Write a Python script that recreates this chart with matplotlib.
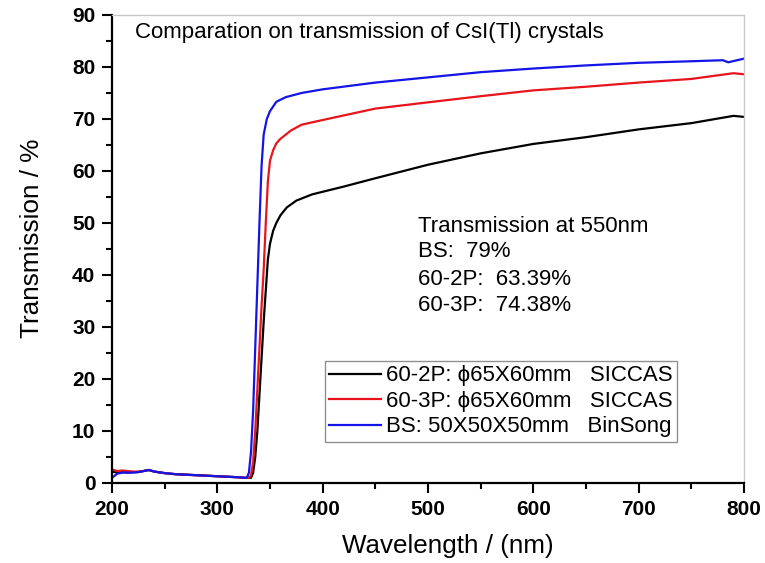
import numpy as np
import matplotlib
matplotlib.use('Agg')
from matplotlib import pyplot as plt
from matplotlib.ticker import MultipleLocator

plt.rcParams['font.family'] = ['Liberation Sans', 'DejaVu Sans']

# shared low-wavelength part (below the absorption edge)
low_nm = [200, 205, 210, 215, 220, 225, 230, 235, 240, 250, 260, 270, 280, 290, 300, 310, 320, 326]
low_bs = [1.0, 1.8, 2.0, 2.0, 2.0, 2.1, 2.3, 2.5, 2.2, 1.9, 1.7, 1.6, 1.5, 1.4, 1.3, 1.2, 1.1, 1.0]
low_2p = [2.2, 2.0, 2.1, 2.0, 2.1, 2.1, 2.3, 2.5, 2.2, 1.9, 1.7, 1.6, 1.5, 1.4, 1.3, 1.2, 1.1, 1.0]
low_3p = [2.6, 2.3, 2.4, 2.3, 2.2, 2.2, 2.3, 2.5, 2.2, 1.9, 1.7, 1.6, 1.5, 1.4, 1.3, 1.2, 1.1, 1.0]

# BS: 50X50X50mm BinSong
bs_nm = [328, 330, 332, 334, 336, 338, 340, 342, 344, 347, 350, 356, 365, 380, 400, 450, 500, 550,
         600, 650, 700, 750, 780, 785, 800]
bs_val = [1.0, 2.0, 6.0, 14.0, 26.0, 38.0, 50.0, 61.0, 67.0, 70.0, 71.5, 73.3, 74.2, 75.0, 75.7,
          77.0, 78.0, 79.0, 79.7, 80.3, 80.8, 81.1, 81.3, 80.9, 81.6]

# 60-2P: phi65X60mm SICCAS
p2_nm = [330, 332, 334, 336, 338, 340, 342, 344, 346, 348, 350, 353, 356, 360, 366, 375, 390, 400,
         420, 450, 500, 550, 600, 650, 700, 750, 790, 800]
p2_val = [1.0, 1.0, 2.0, 5.0, 10.0, 17.0, 24.0, 31.0, 37.0, 43.0, 46.0, 48.5, 50.0, 51.5, 53.0,
          54.3, 55.5, 56.0, 57.0, 58.6, 61.2, 63.39, 65.2, 66.5, 68.0, 69.2, 70.6, 70.4]

# 60-3P: phi65X60mm SICCAS
p3_nm = [328, 330, 332, 334, 336, 338, 340, 342, 344, 346, 348, 350, 353, 356, 360, 370, 380, 400,
         450, 500, 550, 600, 650, 700, 750, 790, 800]
p3_val = [1.0, 1.0, 1.5, 4.0, 10.0, 18.0, 26.0, 34.0, 41.0, 50.0, 58.0, 62.0, 64.0, 65.3, 66.2,
          67.8, 68.9, 69.8, 72.0, 73.2, 74.38, 75.5, 76.2, 77.0, 77.7, 78.8, 78.6]

series = [
    ('60-2P: \u03d565X60mm   SICCAS', low_nm + p2_nm, low_2p + p2_val, 'black'),
    ('60-3P: \u03d565X60mm   SICCAS', low_nm + p3_nm, low_3p + p3_val, '#e8141c'),
    ('BS: 50X50X50mm   BinSong', low_nm + bs_nm, low_bs + bs_val, '#1414e6'),
]

fig = plt.figure(figsize=(7.65, 5.63), dpi=100)
ax = fig.add_axes([0.1464, 0.1421, 0.8261, 0.8313])

for lab, x, y, c in series:
    ax.plot(x, y, color=c, lw=1.6, label=lab)

ax.set_xlim(200, 800)
ax.set_ylim(0, 90)
ax.xaxis.set_major_locator(MultipleLocator(100))
ax.xaxis.set_minor_locator(MultipleLocator(50))
ax.yaxis.set_major_locator(MultipleLocator(10))
ax.yaxis.set_minor_locator(MultipleLocator(5))

for s in ['left', 'bottom']:
    ax.spines[s].set_linewidth(1.6)
for s in ['top', 'right']:
    ax.spines[s].set_color('#c8c8c8')
    ax.spines[s].set_linewidth(1.0)

ax.tick_params(which='major', direction='out', length=7, width=1.5, pad=5, labelsize=15)
ax.tick_params(which='minor', direction='out', length=4.5, width=1.5)
for t in ax.get_xticklabels() + ax.get_yticklabels():
    t.set_fontweight('bold')

ax.set_xlabel('Wavelength / (nm)', fontsize=18.7)
ax.set_ylabel('Transmission / %', fontsize=18.8)
ax.xaxis.set_label_coords(0.531, -0.108)
ax.yaxis.set_label_coords(-0.108, 0.5235)

ax.text(222, 85.6, 'Comparation on transmission of CsI(Tl) crystals', fontsize=16, va='baseline')
ax.text(491, 48.3, 'Transmission at 550nm', fontsize=16, va='baseline')
ax.text(491, 43.4, 'BS:  79%', fontsize=16, va='baseline')
ax.text(491, 38.1, '60-2P:  63.39%', fontsize=16, va='baseline')
ax.text(491, 33.0, '60-3P:  74.38%', fontsize=16, va='baseline')

leg = ax.legend(loc='upper left', bbox_to_anchor=(0.337, 0.2607), borderaxespad=0,
                fontsize=16, frameon=True, fancybox=False, framealpha=1,
                edgecolor='#909090', handlelength=2.3, handletextpad=0.25,
                labelspacing=0.2, borderpad=0.2)
leg.get_frame().set_linewidth(1.0)

fig.savefig('out.png', dpi=100)
